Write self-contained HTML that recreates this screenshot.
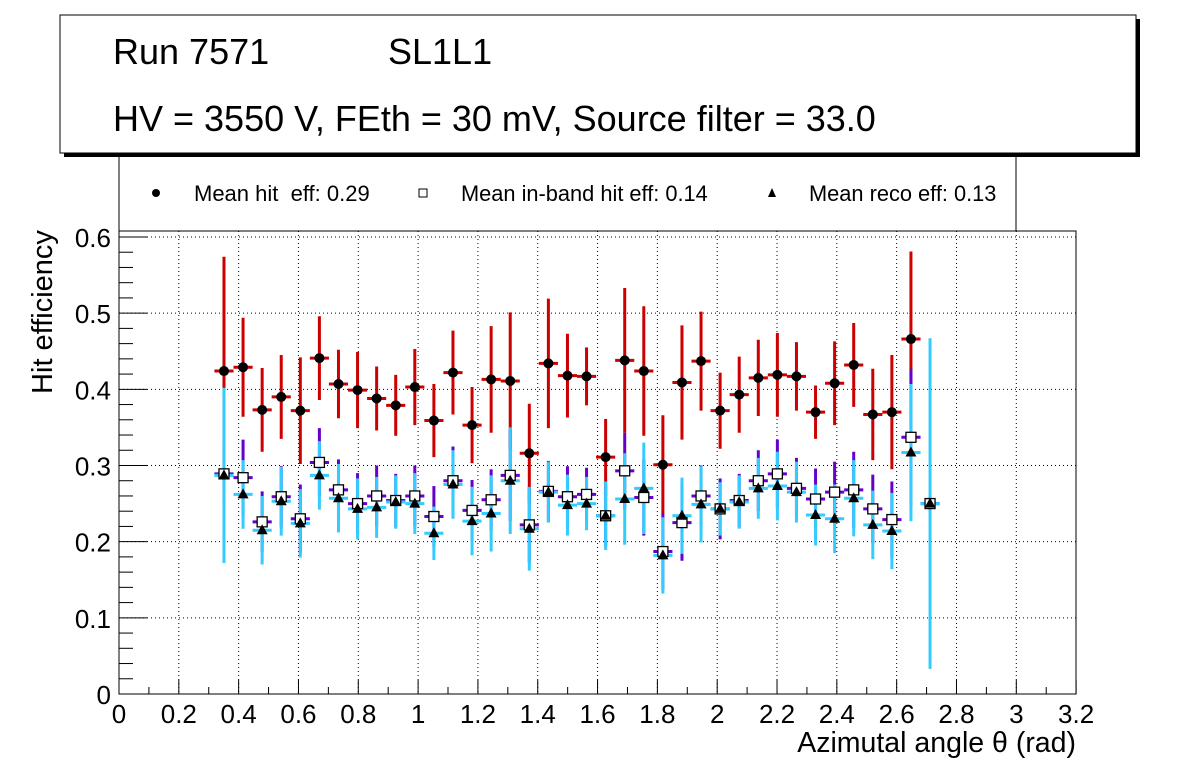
<!DOCTYPE html>
<html><head><meta charset="utf-8"><style>
body{margin:0;background:#fff}
svg text{font-family:"Liberation Sans",sans-serif}
</style></head><body>
<svg id="c" width="1196" height="772" xmlns="http://www.w3.org/2000/svg">
<rect x="0" y="0" width="1196" height="772" fill="#fff"/>
<g id="grid"></g>
<rect x="119" y="231" width="957" height="463" fill="none" stroke="#000" stroke-width="1"/>
<g id="axes"></g>
<g id="marks"></g>
<rect x="64" y="19" width="1076" height="138" fill="#000"/>
<rect x="60" y="15" width="1076" height="138" fill="#fff" stroke="#000" stroke-width="1"/>
<text x="113" y="64" font-size="36">Run 7571</text>
<text x="388" y="64" font-size="36">SL1L1</text>
<text x="113" y="131" font-size="36">HV = 3550 V, FEth = 30 mV, Source filter = 33.0</text>
<g>
<line x1="119" y1="157" x2="119" y2="231" stroke="#000"/>
<line x1="1016" y1="157" x2="1016" y2="231" stroke="#000"/>
<g><circle cx="156" cy="193" r="4" fill="#000"/><text x="194" y="201" font-size="22" xml:space="preserve">Mean hit  eff: 0.29</text></g>
<g><rect x="419" y="189" width="8" height="8" fill="#fff" stroke="#000"/><text x="461" y="201" font-size="21.8">Mean in-band hit eff: 0.14</text></g>
<g><polygon points="772,188 776,197 768,197" fill="#000"/><text x="809" y="201" font-size="21.8">Mean reco eff: 0.13</text></g>
</g>
<text x="52" y="312" font-size="29" text-anchor="middle" transform="rotate(-90 52 312)">Hit efficiency</text>
<text x="1076" y="752" font-size="28.5" text-anchor="end">Azimutal angle θ (rad)</text>
</svg>
<script>
const xTicks=[0,0.2,0.4,0.6,0.8,1,1.2,1.4,1.6,1.8,2,2.2,2.4,2.6,2.8,3,3.2];
const xTickLabels=["0","0.2","0.4","0.6","0.8","1","1.2","1.4","1.6","1.8","2","2.2","2.4","2.6","2.8","3","3.2"];
const yTicks=[0,0.1,0.2,0.3,0.4,0.5,0.6];
const yTickLabels=["0","0.1","0.2","0.3","0.4","0.5","0.6"];
const xStart=0.351, xStep=0.0638, binHalf=0.032;
const hitVals=[0.424,0.429,0.373,0.390,0.372,0.441,0.407,0.399,0.388,0.379,0.403,0.359,0.422,0.353,0.413,0.411,0.316,0.434,0.418,0.417,0.311,0.438,0.424,0.301,0.409,0.437,0.372,0.393,0.415,0.419,0.417,0.370,0.408,0.432,0.367,0.370,0.466,null];
const hitErr=[0.15,0.065,0.055,0.055,0.07,0.055,0.045,0.05,0.042,0.04,0.05,0.048,0.055,0.05,0.07,0.09,0.065,0.085,0.055,0.038,0.05,0.095,0.085,0.065,0.075,0.065,0.05,0.05,0.05,0.055,0.045,0.035,0.055,0.055,0.06,0.075,0.115,0];
const bandVals=[0.289,0.284,0.226,0.259,0.230,0.304,0.268,0.250,0.260,0.254,0.260,0.233,0.280,0.241,0.255,0.287,0.222,0.266,0.259,0.262,0.234,0.293,0.258,0.187,0.225,0.260,0.243,0.254,0.280,0.289,0.270,0.256,0.265,0.268,0.243,0.229,0.337,0.250];
const bandErr=[0.04,0.05,0.04,0.04,0.045,0.045,0.04,0.04,0.04,0.035,0.04,0.04,0.045,0.04,0.04,0.06,0.05,0.04,0.04,0.035,0.04,0.05,0.05,0.05,0.05,0.04,0.04,0.035,0.04,0.045,0.04,0.04,0.04,0.05,0.045,0.05,0.09,0.01];
const recoVals=[0.287,0.262,0.215,0.253,0.224,0.287,0.257,0.243,0.245,0.252,0.250,0.211,0.275,0.227,0.237,0.280,0.217,0.265,0.248,0.250,0.234,0.256,0.270,0.182,0.234,0.249,0.243,0.252,0.270,0.273,0.265,0.235,0.230,0.257,0.222,0.214,0.317,0.250];
const recoErr=[0.115,0.045,0.045,0.045,0.045,0.045,0.045,0.04,0.04,0.035,0.04,0.035,0.045,0.045,0.05,0.07,0.055,0.04,0.04,0.035,0.045,0.06,0.06,0.05,0.05,0.05,0.035,0.035,0.04,0.045,0.04,0.04,0.045,0.05,0.045,0.05,0.09,0.217];
const X=v=>119+v*299.1;
const Y=v=>694-v*761.7;
const NS="http://www.w3.org/2000/svg";
function mk(tag,attrs,parent){const e=document.createElementNS(NS,tag);for(const k in attrs)e.setAttribute(k,attrs[k]);parent.appendChild(e);return e;}
const grid=document.getElementById('grid'),axes=document.getElementById('axes'),marks=document.getElementById('marks');
xTicks.forEach((t,i)=>{
  if(t>0&&t<3.2){const l=mk('line',{x1:X(t),x2:X(t),y1:231,y2:694,stroke:'#000','stroke-dasharray':'1,3'},grid);
  
  }
  const tk=mk('line',{x1:X(t),x2:X(t),y1:694,y2:680,stroke:'#000'},axes);
  
  
  const tx=mk('text',{x:X(t),y:723,'font-size':26,'text-anchor':'middle'},axes);tx.textContent=xTickLabels[i];
  
  
});
for(let k=1;k<32;k++){if(k%2){const m=mk('line',{x1:X(k*0.1),x2:X(k*0.1),y1:694,y2:687,stroke:'#000'},axes);

}}
yTicks.forEach((t,i)=>{
  if(t>0){const l=mk('line',{x1:119,x2:1076,y1:Y(t),y2:Y(t),stroke:'#000','stroke-dasharray':'1,3'},grid);
  
  }
  const tk=mk('line',{x1:119,x2:147,y1:Y(t),y2:Y(t),stroke:'#000'},axes);
  
  
  const tx=mk('text',{x:111,y:Y(t)+10,'font-size':26,'text-anchor':'end'},axes);tx.textContent=yTickLabels[i];
  
  
});
for(let k=1;k<30;k++){if(k%5){const m=mk('line',{x1:119,x2:133,y1:Y(k*0.02),y2:Y(k*0.02),stroke:'#000'},axes);

}}
function errbar(i,v,e,col,name){
  const x=X(xStart+i*xStep);const g=mk('g',{},marks);
  
  
  mk('line',{x1:x,x2:x,y1:Y(v+e),y2:Y(v-e),stroke:col,'stroke-width':3},g);
  mk('line',{x1:X(xStart+i*xStep-binHalf),x2:X(xStart+i*xStep+binHalf),y1:Y(v),y2:Y(v),stroke:col,'stroke-width':3},g);
  return [g,x,Y(v)];
}
hitVals.forEach((v,i)=>{if(v==null)return;const [g,x,y]=errbar(i,v,hitErr[i],'#cc0000','hit-eff-point');mk('circle',{cx:x,cy:y,r:5,fill:'#000'},g);});
bandVals.forEach((v,i)=>{errbar(i,v,bandErr[i],'#6600cc','inband-eff-point');});
recoVals.forEach((v,i)=>{errbar(i,v,recoErr[i],'#33ccff','reco-eff-point');});
bandVals.forEach((v,i)=>{const x=X(xStart+i*xStep),y=Y(v);const r=mk('rect',{x:x-5,y:y-5,width:10,height:10,fill:'#fff',stroke:'#000','stroke-width':1.3},marks);

});
recoVals.forEach((v,i)=>{const x=X(xStart+i*xStep),y=Y(v);const p=mk('polygon',{points:`${x},${y-6} ${x+5.5},${y+4} ${x-5.5},${y+4}`,fill:'#000'},marks);

});
</script>
</body></html>
